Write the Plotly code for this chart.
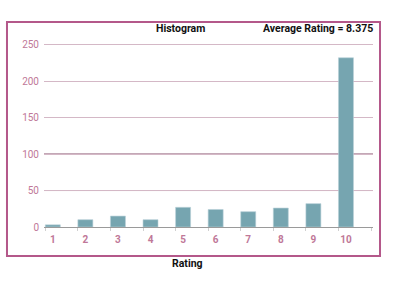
import plotly.graph_objects as go

ratings = [1, 2, 3, 4, 5, 6, 7, 8, 9, 10]
counts = [3, 10, 15, 10, 27, 24, 21, 26, 32, 232]
tick_labels = [str(r) for r in ratings]
y_ticks = [0, 50, 100, 150, 200, 250]
dark_grid_levels = [50, 100]
average = sum(r * c for r, c in zip(ratings, counts)) / sum(counts)

fig = go.Figure()
fig.add_trace(go.Bar(
    x=ratings, y=counts, width=0.46,
    marker=dict(color="#76a5b0", line=dict(color="#b8d0d6", width=0.6)),
    showlegend=False,
))

shapes = []
for lv in dark_grid_levels:
    shapes.append(dict(type="line", xref="paper", yref="y", x0=0, x1=1, y0=lv, y1=lv,
                       line=dict(color="#7a3e5e", width=1), layer="between"))
shapes.append(dict(type="rect", xref="paper", yref="paper",
                   x0=-0.1125, x1=1.0213, y0=-0.156, y1=1.102,
                   line=dict(color="#b4588a", width=2)))

fig.update_layout(
    width=399, height=299,
    margin=dict(l=44, r=26, t=41, b=72),
    paper_bgcolor="white", plot_bgcolor="white",
    font=dict(family="Roboto", size=10, color="#c07898"),
    bargap=0.5,
    xaxis=dict(
        range=[0.73, 10.83], tickmode="array", tickvals=ratings, ticktext=tick_labels,
        showgrid=False, zeroline=False, showline=True, linecolor="#9a9a9a", linewidth=1,
        ticks="", ticklabelstandoff=3,
        tickfont=dict(family="Roboto", size=10, color="#c07898", weight="bold"),
        minor=dict(ticks="outside", tick0=0.77, dtick=1, ticklen=3, tickcolor="#d0d0d0",
                   showgrid=False),
    ),
    yaxis=dict(
        range=[0, 255], tickmode="array", tickvals=y_ticks,
        showgrid=True, gridcolor="#d4b8c6", gridwidth=1, zeroline=False,
        ticks="", ticklabelstandoff=4,
        tickfont=dict(family="Roboto", size=10, color="#c07898"),
    ),
    shapes=shapes,
    annotations=[
        dict(text="<b>Histogram</b>", xref="paper", yref="paper", x=0.416, y=1.065,
             yanchor="middle", showarrow=False,
             font=dict(family="Roboto", size=10.5, color="#111111")),
        dict(text="<b>Average Rating = %s</b>" % format(average, "g"), xref="paper", yref="paper",
             x=1.006, y=1.065, xanchor="right", yanchor="middle", showarrow=False,
             font=dict(family="Roboto", size=10.5, color="#111111")),
        dict(text="<b>Rating</b>", xref="paper", yref="paper", x=0.435, y=-0.194,
             yanchor="middle", showarrow=False,
             font=dict(family="Roboto", size=10.5, color="#111111")),
    ],
)

fig.write_html("out.html", config={"displayModeBar": False},
               post_script="document.body.style.margin='0';")
